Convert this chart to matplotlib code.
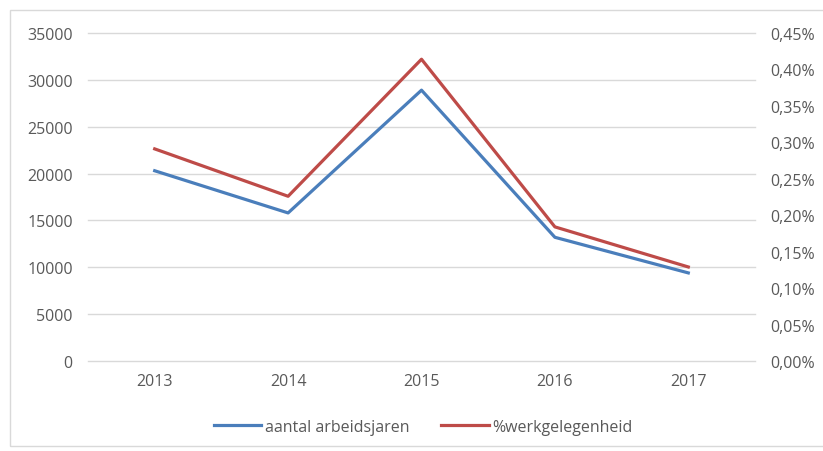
import matplotlib.pyplot as plt
from matplotlib.patches import Rectangle
from matplotlib.ticker import FuncFormatter

# data
jaren = ['2013', '2014', '2015', '2016', '2017']
arbeidsjaren = [20300, 15800, 28900, 13200, 9400]
werkgelegenheid = [0.291, 0.226, 0.414, 0.184, 0.129]  # in %

plt.rcParams['font.family'] = ['Open Sans', 'DejaVu Sans']
grijs = '#595959'
fs = 11.5

fig = plt.figure(figsize=(8.23, 4.52), dpi=100)
ax = fig.add_axes([88 / 823, 1 - 362 / 452, (755 - 88) / 823, (362 - 34) / 452])
ax2 = ax.twinx()

x = range(len(jaren))
l1, = ax.plot(x, arbeidsjaren, color='#4a7ebb', lw=2.3, label='aantal arbeidsjaren', zorder=3)
l2, = ax2.plot(x, werkgelegenheid, color='#be4b48', lw=2.3, label='%werkgelegenheid', zorder=3)

ax.set_xlim(-0.5, 4.5)
ax.set_ylim(0, 35000)
ax.set_yticks(range(0, 35001, 5000))
ax2.set_ylim(0, 0.45)
ax2.set_yticks([i * 0.05 for i in range(10)])
ax2.yaxis.set_major_formatter(FuncFormatter(lambda v, p: f'{v:.2f}%'.replace('.', ',')))

ax.set_xticks(list(x))
ax.set_xticklabels(jaren)
ax.grid(axis='y', color='#d9d9d9', lw=1)
ax.set_axisbelow(True)
for gl in ax.get_ygridlines():
    gl.set_clip_on(False)

for a in (ax, ax2):
    for s in a.spines.values():
        s.set_visible(False)
    a.tick_params(length=0, colors=grijs, labelsize=fs)
ax.tick_params(axis='y', pad=11)
ax.tick_params(axis='x', pad=9)
ax2.tick_params(axis='y', pad=11)

fig.legend(handles=[l1, l2], loc='center', bbox_to_anchor=(423 / 823, 1 - 428 / 452),
           ncol=2, frameon=False, fontsize=fs, labelcolor=grijs,
           handlelength=3.0, handletextpad=0.2, columnspacing=2.0)

fig.patches.append(Rectangle((10 / 823, 5 / 452), 900 / 823, 436 / 452, transform=fig.transFigure,
                             fill=False, edgecolor='#d9d9d9', lw=1))

fig.savefig('out.png', dpi=100)
